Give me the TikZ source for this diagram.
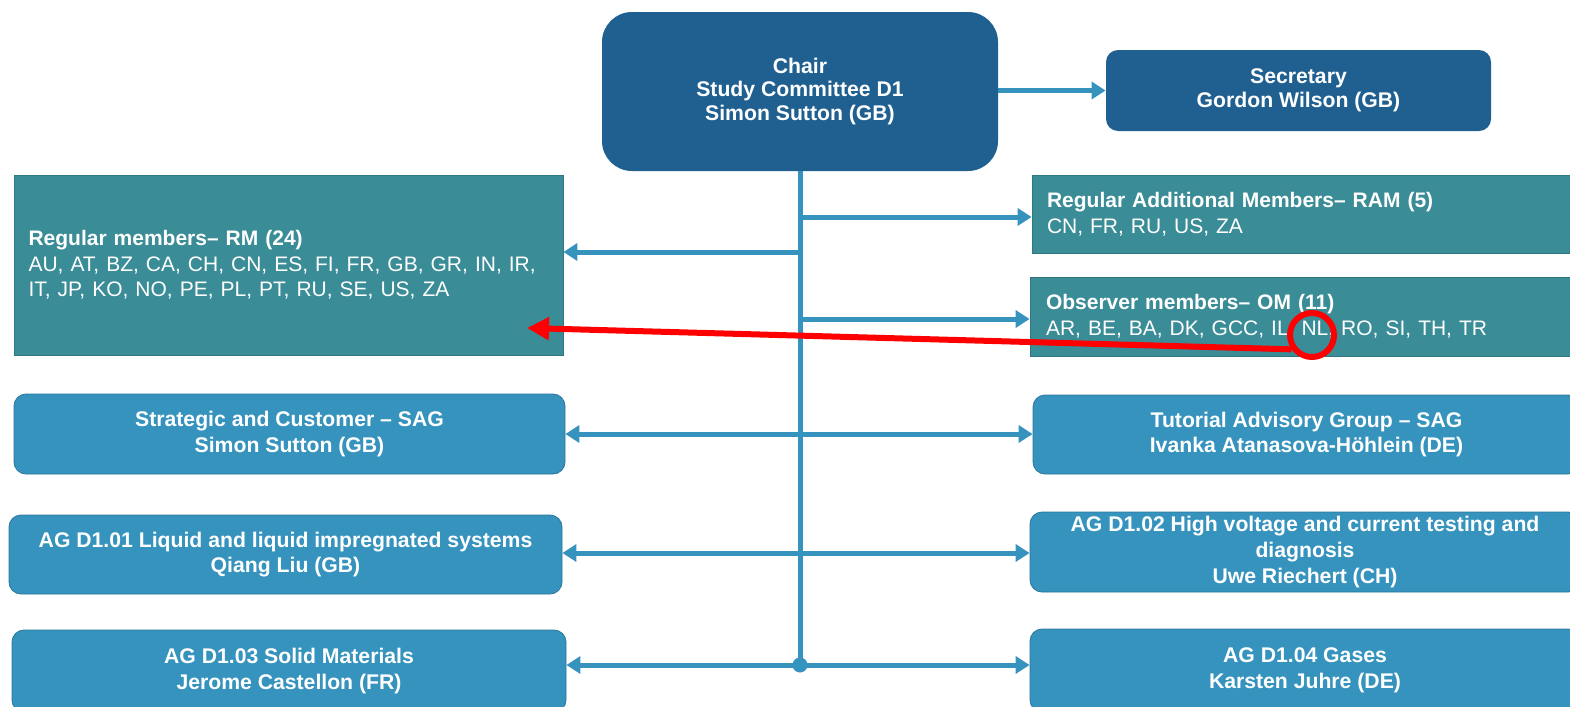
\documentclass[tikz,border=0pt]{standalone}
\usepackage{fontspec}
\setmainfont{Liberation Sans}
\usetikzlibrary{arrows.meta}

\definecolor{chairblue}{RGB}{31,96,145}
\definecolor{memberteal}{RGB}{58,140,150}
\definecolor{groupblue}{RGB}{53,147,190}

\begin{document}
\begin{tikzpicture}[x=0.5pt,y=-0.5pt,
    headbox/.style={fill=chairblue, text=white, align=center, inner sep=0pt,
        font=\fontsize{10.6}{11.8}\selectfont\bfseries},
    memberbox/.style={fill=memberteal, draw=memberteal!85!black, thin, text=white,
        align=left, inner sep=0pt, font=\fontsize{10.5}{12.8}\selectfont},
    groupbox/.style={fill=groupblue, draw=groupblue!80!black, thin, rounded corners=6pt,
        text=white, align=center, inner sep=0pt,
        font=\fontsize{10.6}{12.8}\selectfont\bfseries},
    link/.style={draw=groupblue, line width=2.5pt},
    tip/.style={-{Triangle[length=7pt,width=8.5pt]}},
    bothtips/.style={{Triangle[length=7pt,width=8.5pt]}-{Triangle[length=7pt,width=8.5pt]}}
]

\useasboundingbox (0,0) rectangle (1570,707);
\clip (0,0) rectangle (1570,707);

%chair and secretary
\node[headbox, rounded corners=15pt, minimum width=198pt, minimum height=79.5pt]
    (chair) at (800,91.5) {Chair\\Study Committee D1\\Simon Sutton (GB)};
\node[headbox, rounded corners=6pt, minimum width=192.5pt, minimum height=40.5pt]
    (sec) at (1298.5,90.5) {Secretary\\Gordon Wilson (GB)};

%members
\node[memberbox, minimum width=274.5pt, minimum height=90pt, text width=260pt]
    (rm) at (288.5,265) {\textbf{Regular members– RM (24)}\\
    AU, AT, BZ, CA, CH, CN, ES, FI, FR, GB, GR, IN, IR,\\
    IT, JP, KO, NO, PE, PL, PT, RU, SE, US, ZA};
\node[memberbox, minimum width=274pt, minimum height=39pt, text width=259pt]
    (ram) at (1306,214) {\textbf{Regular Additional Members– RAM (5)}\\
    CN, FR, RU, US, ZA};
\node[memberbox, minimum width=275pt, minimum height=39.5pt, text width=259pt]
    (om) at (1305,316.5) {\textbf{Observer members– OM (11)}\\
    AR, BE, BA, DK, GCC, IL, NL, RO, SI, TH, TR};

%groups
\node[groupbox, minimum width=275.5pt, minimum height=40pt]
    (sag) at (289.5,434) {Strategic and Customer – SAG\\Simon Sutton (GB)};
\node[groupbox, minimum width=273.5pt, minimum height=39.5pt]
    (tag) at (1306.5,434.5) {Tutorial Advisory Group – SAG\\Ivanka Atanasova-Höhlein (DE)};
\node[groupbox, minimum width=276.5pt, minimum height=39.5pt]
    (ag01) at (285.5,554.5) {AG D1.01 Liquid and liquid impregnated systems\\Qiang Liu (GB)};
\node[groupbox, minimum width=275pt, minimum height=40pt]
    (ag02) at (1305,552) {AG D1.02 High voltage and current testing and\\diagnosis\\Uwe Riechert (CH)};
\node[groupbox, minimum width=277pt, minimum height=41pt]
    (ag03) at (289,671) {AG D1.03 Solid Materials\\Jerome Castellon (FR)};
\node[groupbox, minimum width=275pt, minimum height=41.5pt]
    (ag04) at (1305,670.5) {AG D1.04 Gases\\Karsten Juhre (DE)};

%trunk
\node[circle, fill=groupblue, minimum size=7.5pt, inner sep=0pt] (jn) at (800,665) {};
\coordinate (trm) at (800,252);
\coordinate (tram) at (800,217);
\coordinate (tom) at (800,319);

\draw[link] (chair.south) -- (jn.center);
\draw[link, tip] (chair.east |- sec.west) -- (sec.west);
\draw[link, tip] (trm) -- (trm -| rm.east);
\draw[link, tip] (tram) -- (tram -| ram.west);
\draw[link, tip] (tom) -- (tom -| om.west);

\draw[link, bothtips] (sag.east) -- (sag.east -| tag.west);
\draw[link, bothtips] (ag01.east |- 0,553) -- (ag02.west |- 0,553);
\draw[link, bothtips] (jn.center -| ag03.east) -- (jn.center -| ag04.west);

%red mark
\node[circle, draw=red, line width=3pt, minimum size=22pt, inner sep=0pt] (nlring) at (1312,335) {};
\coordinate (redtip) at (527,328);
\draw[red, line width=3pt, -{Triangle[length=11pt,width=11pt]}] (nlring.215) -- (redtip);

\end{tikzpicture}
\end{document}
